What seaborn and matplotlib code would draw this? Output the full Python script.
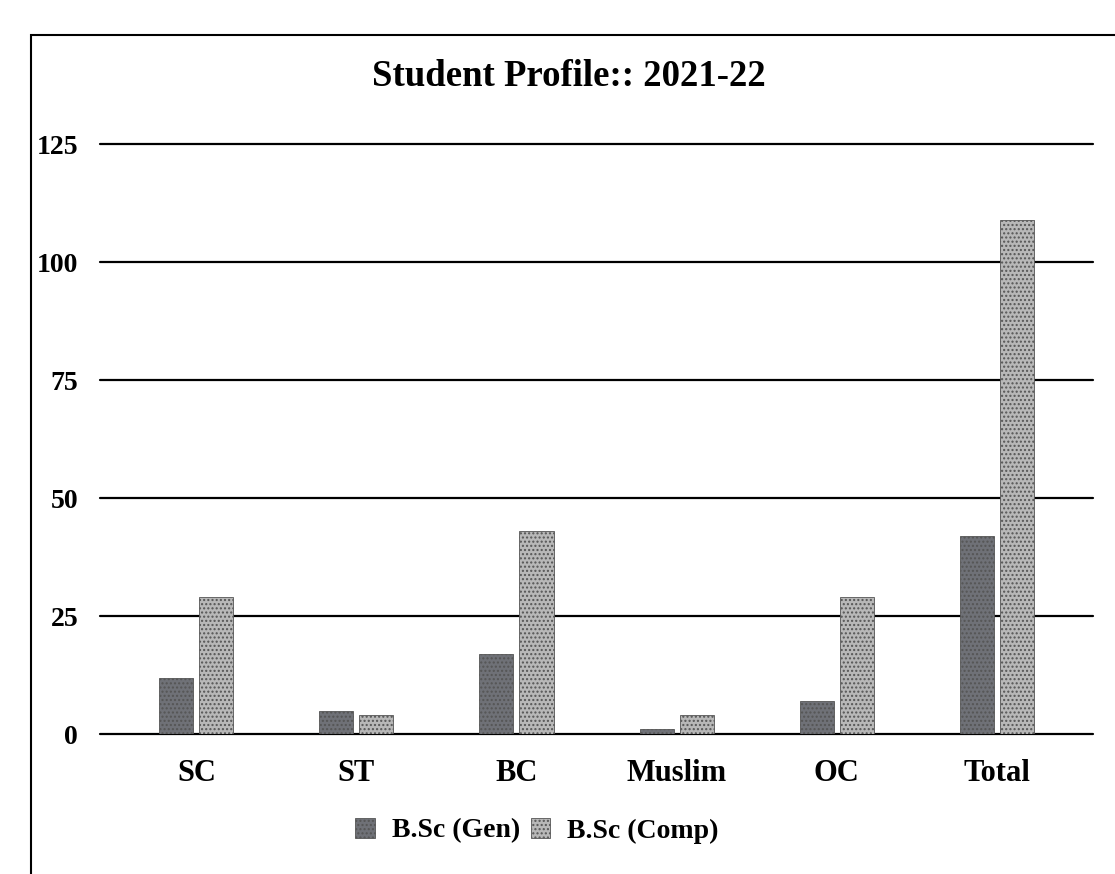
import matplotlib
matplotlib.use("Agg")
import matplotlib.pyplot as plt
import seaborn as sns
import pandas as pd
from matplotlib.patches import Rectangle

categories = ["SC", "ST", "BC", "Muslim", "OC", "Total"]
gen_values = [12, 5, 17, 1, 7, 42]
comp_values = [29, 4, 43, 4, 29, 109]
series_names = ["B.Sc (Gen)", "B.Sc (Comp)"]
y_ticks = [0, 25, 50, 75, 100, 125]
title = "Student Profile:: 2021-22"

df = pd.DataFrame({
    "category": categories * 2,
    "value": gen_values + comp_values,
    "series": [series_names[0]] * len(categories) + [series_names[1]] * len(categories),
})

sns.set_theme(style="white")
plt.rcParams["font.family"] = ["Liberation Serif", "DejaVu Serif"]
plt.rcParams["font.weight"] = "bold"
plt.rcParams["text.color"] = "black"
plt.rcParams["xtick.color"] = "black"
plt.rcParams["ytick.color"] = "black"

fig = plt.figure(figsize=(11.15, 8.74), dpi=100)
ax = fig.add_axes([0.09, 0.16, 0.89, 0.675])

palette = {series_names[0]: "#6f7177", series_names[1]: "#b8b8b8"}
sns.barplot(data=df, x="category", y="value", hue="series", order=categories,
            hue_order=series_names, palette=palette, width=0.5, gap=0.15,
            saturation=1, ax=ax, zorder=3, edgecolor="#555555", linewidth=0.6)

for p in ax.patches:
    p.set_hatch("....")

ax.set_ylim(0, 125)
ax.set_yticks(y_ticks)
ax.set_yticklabels([str(t) for t in y_ticks], fontsize=20, fontweight="bold")
ax.tick_params(axis="x", labelsize=22, pad=18, length=0, labelcolor="black")
ax.tick_params(axis="y", length=0, pad=16, labelcolor="black")
for lab in ax.get_xticklabels():
    lab.set_fontweight("bold")
ax.set_xlabel("")
ax.set_ylabel("")
ax.set_xlim(-0.6, 5.6)
for t in y_ticks:
    ax.axhline(t, color="black", linewidth=1.6, zorder=1, clip_on=False)
for s in ["top", "right", "left", "bottom"]:
    ax.spines[s].set_visible(False)

fig.suptitle(title, fontsize=26.5, fontweight="bold", x=0.51, y=0.932, color="black")

leg = ax.legend(loc="upper center", bbox_to_anchor=(0.44, -0.1), ncol=2,
                frameon=False, fontsize=20, handlelength=0.7, handleheight=0.7,
                handletextpad=0.6, columnspacing=0.4)
for txt in leg.get_texts():
    txt.set_fontweight("bold")
    txt.set_color("black")

fig.patches.append(Rectangle((0.028, -0.05), 1.1, 1.01, transform=fig.transFigure,
                             fill=False, edgecolor="black", linewidth=1.5))

fig.savefig("out.png", dpi=100)
